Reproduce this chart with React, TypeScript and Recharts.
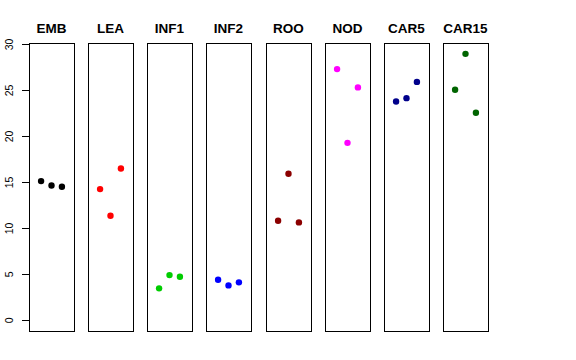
import { ScatterChart, Scatter, XAxis, YAxis, ReferenceArea } from 'recharts'

// tissue groups, one panel each
const groups = ['EMB', 'LEA', 'INF1', 'INF2', 'ROO', 'NOD', 'CAR5', 'CAR15']
const groupColors = ['#000000', '#FF0000', '#00CD00', '#0000FF', '#8B0000', '#FF00FF', '#00008B', '#006400']
const replicates = [1, 2, 3]

const emb = [15.14, 14.67, 14.52]
const lea = [14.27, 11.37, 16.52]
const inf1 = [3.48, 4.92, 4.74]
const inf2 = [4.41, 3.8, 4.13]
const roo = [10.83, 15.94, 10.65]
const nod = [27.32, 19.3, 25.33]
const car5 = [23.8, 24.16, 25.93]
const car15 = [25.07, 28.98, 22.57]

const yTicks = [0, 5, 10, 15, 20, 25, 30]

const series = [emb, lea, inf1, inf2, roo, nod, car5, car15]

const X_DOMAIN: [number, number] = [-0.16, 4.16]
const Y_DOMAIN: [number, number] = [-1.16, 30.16]

const FONT = '"Liberation Sans", Arial, Helvetica, sans-serif'
const TOP = 43
const BOTTOM = 29
const HEIGHT = 360
const PANEL_W = 45
const AXIS_W = 29
const STEP = 59.15

function YTick(props: any) {
  const { x, y, payload } = props
  const tx = x - 6.5
  return (
    <text
      x={tx}
      y={y}
      transform={`rotate(-90, ${tx}, ${y})`}
      textAnchor="middle"
      fontSize={10.5}
      fontFamily={FONT}
      fill="#000"
    >
      {payload.value}
    </text>
  )
}

function Dot(props: any) {
  const { cx, cy, fill } = props
  return <circle cx={cx} cy={cy} r={3.2} fill={fill} />
}

function Panel({ index }: { index: number }) {
  const first = index === 0
  const left = Math.round(AXIS_W + index * STEP)
  const data = replicates.map((r, i) => ({ x: r, y: series[index][i] }))
  const chartLeft = first ? 0 : left
  // +1 so the right border line is not clipped
  const width = (first ? AXIS_W + PANEL_W : PANEL_W) + 1

  return (
    <>
      <div
        style={{
          position: 'absolute',
          left: left - 20,
          width: PANEL_W + 40,
          top: 21,
          textAlign: 'center',
          fontFamily: FONT,
          fontWeight: 'bold',
          fontSize: 13.5,
          lineHeight: 'normal',
          color: '#000',
        }}
      >
        {groups[index]}
      </div>
      <div style={{ position: 'absolute', left: chartLeft, top: 0 }}>
        <ScatterChart
          width={width}
          height={HEIGHT}
          margin={{ top: TOP, right: 1, bottom: BOTTOM, left: 0 }}
        >
          <XAxis type="number" dataKey="x" domain={X_DOMAIN} allowDataOverflow hide />
          <YAxis
            type="number"
            dataKey="y"
            domain={Y_DOMAIN}
            allowDataOverflow
            hide={!first}
            width={AXIS_W}
            ticks={yTicks}
            interval={0}
            tickSize={7}
            tick={<YTick />}
            stroke="#000"
            shapeRendering="crispEdges"
          />
          <ReferenceArea
            x1={X_DOMAIN[0]}
            x2={X_DOMAIN[1]}
            y1={Y_DOMAIN[0]}
            y2={Y_DOMAIN[1]}
            fill="none"
            fillOpacity={0}
            stroke="#000"
            strokeWidth={1}
            shapeRendering="crispEdges"
          />
          <Scatter
            data={data}
            fill={groupColors[index]}
            shape={<Dot />}
            isAnimationActive={false}
          />
        </ScatterChart>
      </div>
    </>
  )
}

export default function App() {
  return (
    <div
      style={{
        position: 'absolute',
        left: 0,
        top: 0,
        width: 576,
        height: 360,
        background: '#fff',
      }}
    >
      {groups.map((g, i) => (
        <Panel key={g} index={i} />
      ))}
    </div>
  )
}
